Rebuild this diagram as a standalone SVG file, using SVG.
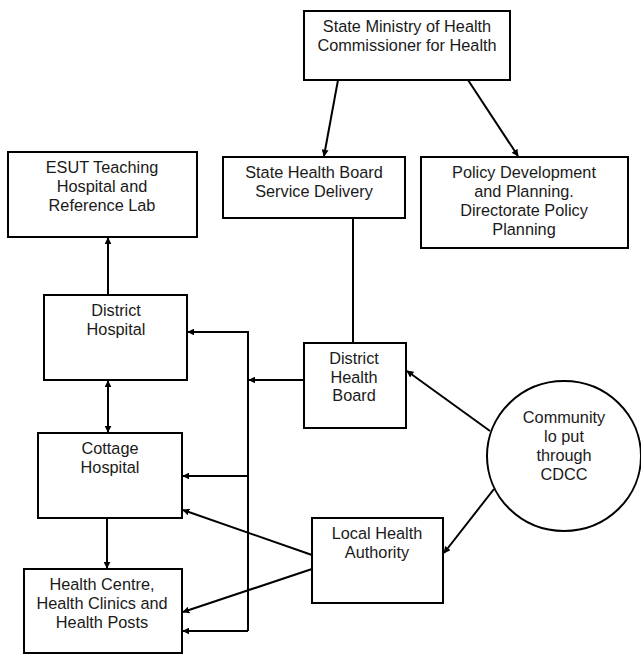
<svg xmlns="http://www.w3.org/2000/svg" width="641" height="654" viewBox="0 0 641 654">
<style>
.box{fill:#fff;stroke:#000;stroke-width:2}
text{font-family:"Liberation Sans",Arial,sans-serif;font-size:16.3px;fill:#1a1a1a;text-anchor:middle}
.c{fill:none;stroke:#000;stroke-width:2}
</style>
<defs>
<marker id="ah" viewBox="0 0 10 10" refX="9" refY="5" markerWidth="3.5" markerHeight="3.5" orient="auto-start-reverse" markerUnits="strokeWidth">
<path d="M0,0 L10,5 L0,10 z" fill="#000"/>
</marker>
</defs>
<rect width="641" height="654" fill="#fff"/>
<g id="connectors">
<line class="c" x1="338" y1="80" x2="324" y2="156" marker-end="url(#ah)"/>
<line class="c" x1="468" y1="80" x2="518" y2="156" marker-end="url(#ah)"/>
<line class="c" x1="353" y1="218" x2="353" y2="343"/>
<line class="c" x1="108" y1="295" x2="108" y2="238" marker-end="url(#ah)"/>
<line class="c" x1="108" y1="381" x2="108" y2="432" marker-start="url(#ah)" marker-end="url(#ah)"/>
<line class="c" x1="107" y1="518" x2="107" y2="568" marker-end="url(#ah)"/>
<polyline class="c" points="248,631 248,332 188,332" marker-end="url(#ah)"/>
<line class="c" x1="248" y1="476" x2="183" y2="476" marker-end="url(#ah)"/>
<line class="c" x1="248" y1="631" x2="183" y2="631" marker-end="url(#ah)"/>
<line class="c" x1="304" y1="380" x2="249" y2="380" marker-end="url(#ah)"/>
<line class="c" x1="490" y1="431" x2="407" y2="371" marker-end="url(#ah)"/>
<line class="c" x1="494" y1="489" x2="444" y2="553" marker-end="url(#ah)"/>
<line class="c" x1="312" y1="555" x2="183" y2="510" marker-end="url(#ah)"/>
<line class="c" x1="312" y1="569" x2="183" y2="612" marker-end="url(#ah)"/>
</g>
<g id="state-ministry">
<rect class="box" x="304" y="11" width="206" height="69"/>
<text x="407" y="32">State Ministry of Health</text>
<text x="407" y="51">Commissioner for Health</text>
</g>
<g id="state-health-board">
<rect class="box" x="223" y="157" width="182" height="61"/>
<text x="314" y="178">State Health Board</text>
<text x="314" y="197">Service Delivery</text>
</g>
<g id="policy-development">
<rect class="box" x="421" y="157" width="207" height="91"/>
<text x="524" y="178">Policy Development</text>
<text x="524" y="197">and Planning.</text>
<text x="524" y="216">Directorate Policy</text>
<text x="524" y="235">Planning</text>
</g>
<g id="esut">
<rect class="box" x="8" y="152" width="189" height="85"/>
<text x="102" y="173">ESUT Teaching</text>
<text x="102" y="192">Hospital and</text>
<text x="102" y="211">Reference Lab</text>
</g>
<g id="district-hospital">
<rect class="box" x="44" y="295" width="143" height="85"/>
<text x="116" y="316">District</text>
<text x="116" y="335">Hospital</text>
</g>
<g id="district-health-board">
<rect class="box" x="304" y="343" width="102" height="85"/>
<text x="354" y="364">District</text>
<text x="354" y="383">Health</text>
<text x="354" y="401">Board</text>
</g>
<g id="cottage-hospital">
<rect class="box" x="38" y="433" width="144" height="85"/>
<text x="110" y="454">Cottage</text>
<text x="110" y="473">Hospital</text>
</g>
<g id="community">
<ellipse cx="564" cy="456" rx="77" ry="75" fill="#fff" stroke="#000" stroke-width="2"/>
<text x="564" y="423">Community</text>
<text x="564" y="442">lo put</text>
<text x="564" y="461">through</text>
<text x="564" y="480">CDCC</text>
</g>
<g id="local-health-authority">
<rect class="box" x="312" y="518" width="131" height="85"/>
<text x="377" y="539">Local Health</text>
<text x="377" y="558">Authority</text>
</g>
<g id="health-centre">
<rect class="box" x="24" y="569" width="158" height="84"/>
<text x="102" y="590">Health Centre,</text>
<text x="102" y="609">Health Clinics and</text>
<text x="102" y="628">Health Posts</text>
</g>
</svg>
